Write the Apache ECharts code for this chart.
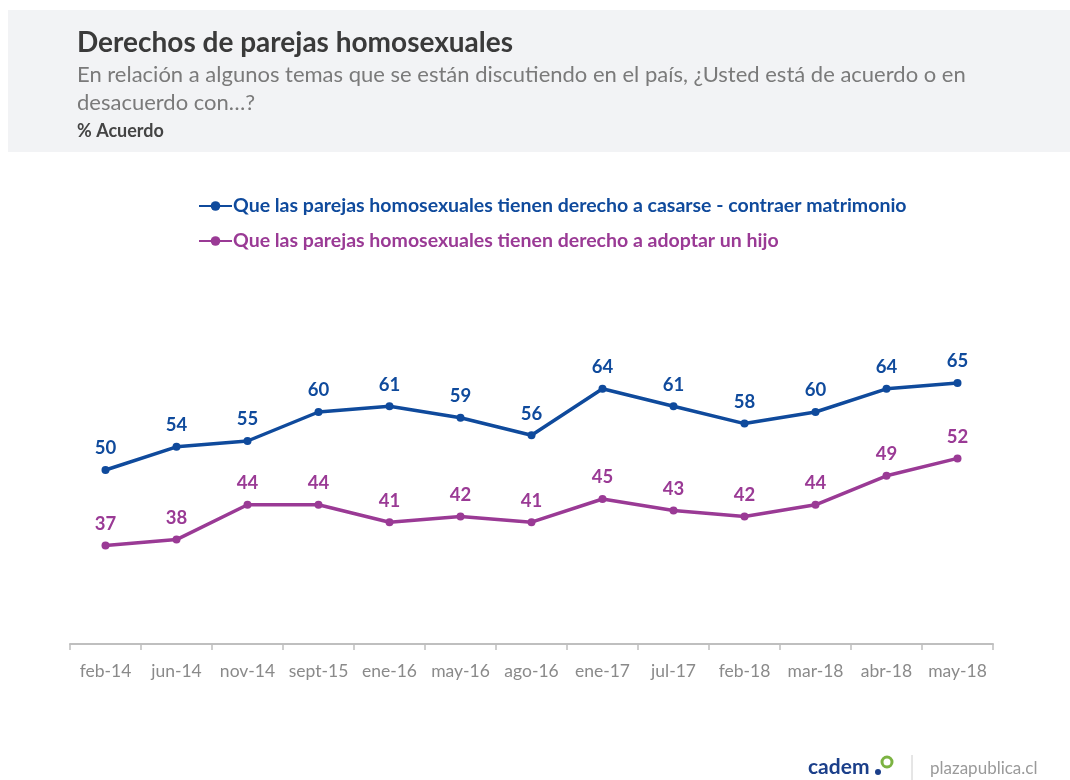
<!DOCTYPE html>
<html><head><meta charset="utf-8">
<script src="https://cdn.jsdelivr.net/npm/echarts@6/dist/echarts.min.js"></script>
<style>html,body{margin:0;padding:0;background:#fff}#c{width:1070px;height:780px}</style>
</head><body><div id="c"></div>
<script>
const categories = ['feb-14','jun-14','nov-14','sept-15','ene-16','may-16','ago-16','ene-17','jul-17','feb-18','mar-18','abr-18','may-18'];
const matrimonio = [50,54,55,60,61,59,56,64,61,58,60,64,65];
const adopcion = [37,38,44,44,41,42,41,45,43,42,44,49,52];
const seriesNames = ['Que las parejas homosexuales tienen derecho a casarse - contraer matrimonio','Que las parejas homosexuales tienen derecho a adoptar un hijo'];
const BLUE = '#0f4a9c', PURPLE = '#9a3a95';
const FONT = 'Lato, "Open Sans", sans-serif';
const chart = echarts.init(document.getElementById('c'));
function mkSeries(name, data, color){
  return {
    name, type:'line', data, symbol:'circle', symbolSize:8,
    lineStyle:{color, width:3.5}, itemStyle:{color},
    label:{show:true, position:'top', distance:8, color, fontSize:18.5, fontWeight:'bold', fontFamily:FONT},
    animation:false
  };
}
chart.setOption({
  animation:false,
  graphic:[
    {type:'rect', shape:{x:8,y:10,width:1062,height:142}, style:{fill:'#f2f3f5'}, z:-1},
    {type:'text', left:77, top:29, style:{text:'Derechos de parejas homosexuales', fill:'#3a3a3a', font:'bold 28px '+FONT}},
    {type:'text', left:77, top:64, style:{text:'En relación a algunos temas que se están discutiendo en el país, ¿Usted está de acuerdo o en', fill:'#7a7a7a', font:'22px '+FONT}},
    {type:'text', left:77, top:92, style:{text:'desacuerdo con…?', fill:'#7a7a7a', font:'22px '+FONT}},
    {type:'text', left:77, top:122, style:{text:'% Acuerdo', fill:'#444', font:'bold 18px '+FONT}},
    {type:'text', left:808, top:757, style:{text:'cadem', fill:'#1b3f8a', font:'bold 21px '+FONT}},
    {type:'circle', shape:{cx:887,cy:762,r:5}, style:{fill:'none', stroke:'#7cb342', lineWidth:3}},
    {type:'circle', shape:{cx:878,cy:772,r:3}, style:{fill:'#1b3f8a'}},
    {type:'line', shape:{x1:912,y1:755,x2:912,y2:780}, style:{stroke:'#ccc', lineWidth:1}},
    {type:'text', left:930, top:760, style:{text:'plazapublica.cl', fill:'#9a9a9a', font:'17px '+FONT}}
  ],
  legend:[
    {data:[seriesNames[0]], left:193, top:191, itemWidth:33, itemHeight:12, textStyle:{color:BLUE, fontSize:19.5, fontWeight:'bold', fontFamily:FONT, padding:[0,0,0,-4]}},
    {data:[seriesNames[1]], left:193, top:226, itemWidth:33, itemHeight:12, textStyle:{color:PURPLE, fontSize:19.5, fontWeight:'bold', fontFamily:FONT, padding:[0,0,0,-4]}}
  ],
  grid:{left:70, right:77, top:180, bottom:136},
  xAxis:{type:'category', data:categories, boundaryGap:true,
    axisLine:{lineStyle:{color:'#bfbfbf', width:2}},
    axisTick:{show:true, interval:0, length:6, lineStyle:{color:'#bfbfbf', width:1.5}},
    axisLabel:{interval:0, color:'#8a8a8a', fontSize:17.5, fontFamily:FONT, margin:18}},
  yAxis:{type:'value', min:20, max:100, show:false, splitLine:{show:false}},
  series:[mkSeries(seriesNames[0], matrimonio, BLUE), mkSeries(seriesNames[1], adopcion, PURPLE)]
});
</script></body></html>
